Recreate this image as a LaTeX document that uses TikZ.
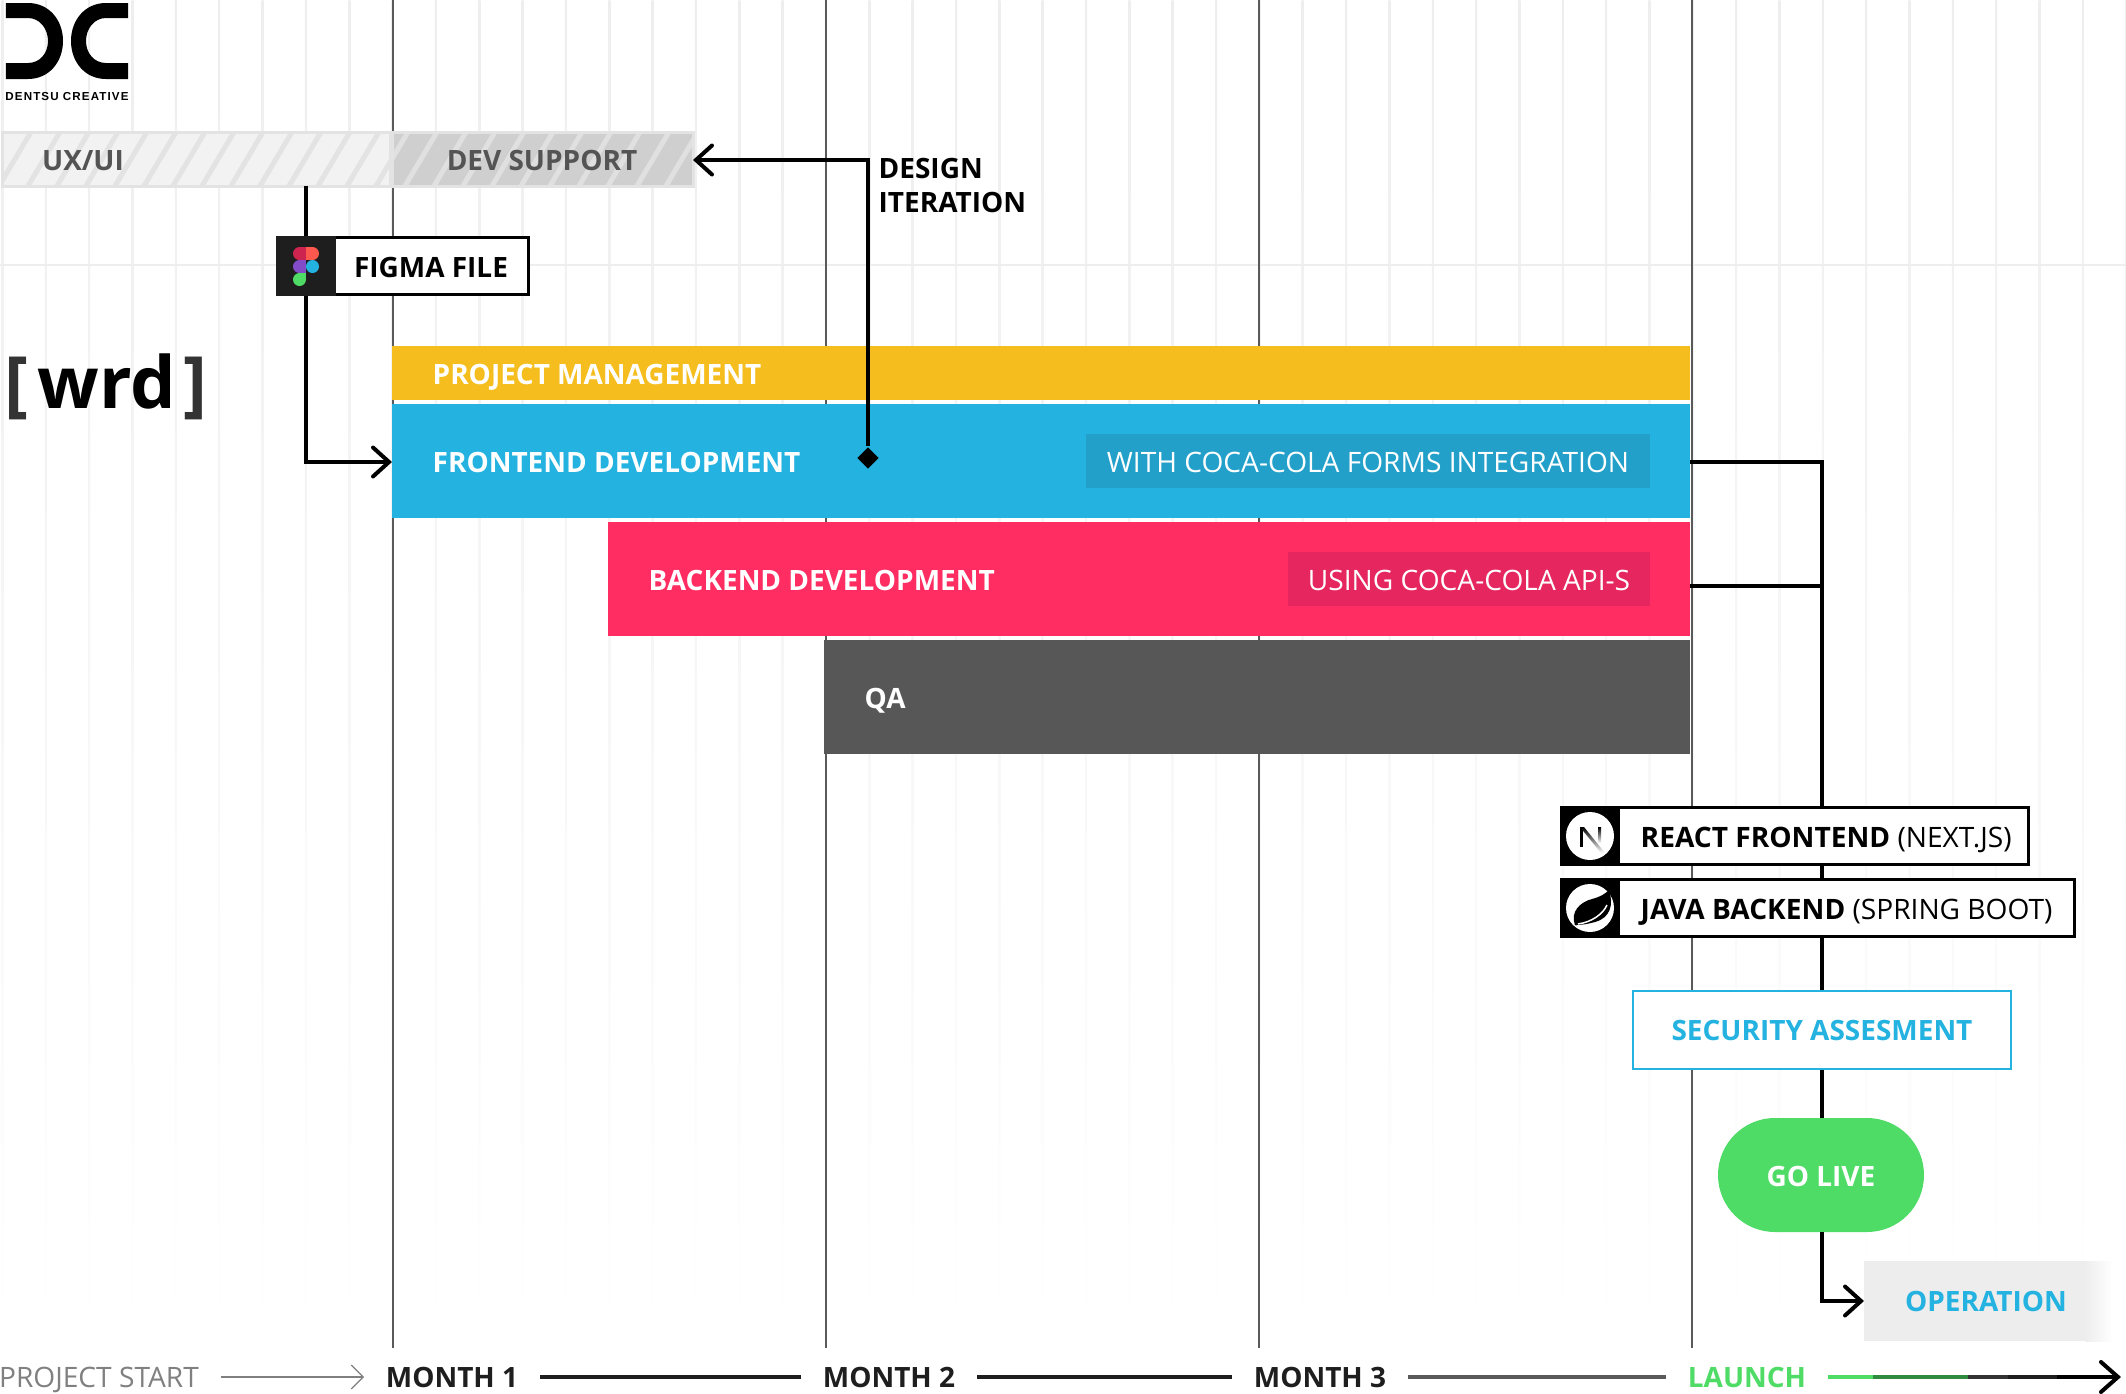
\documentclass[tikz,border=0pt]{standalone}
\usepackage{fontspec}
\setmainfont{Open Sans}
\newfontfamily\logofont[LetterSpace=9.5]{Liberation Sans}
\usetikzlibrary{arrows.meta,shapes.geometric}
\definecolor{gridgrey}{HTML}{EEEEEE}
\definecolor{monthgrey}{HTML}{5A5A5A}
\definecolor{pmyellow}{HTML}{F5BE1E}
\definecolor{feblue}{HTML}{24B2E0}
\definecolor{subblue}{HTML}{22A0C9}
\definecolor{bepink}{HTML}{FF2D62}
\definecolor{subpink}{HTML}{E5265F}
\definecolor{qagrey}{HTML}{575757}
\definecolor{livegreen}{HTML}{4EDB66}
\definecolor{axisdark}{HTML}{1E1E1E}
\definecolor{axisgreen}{HTML}{2E8B40}
\tikzset{
    barbox/.style={rectangle, anchor=north west, inner sep=0pt, outer sep=0pt},
    caplabel/.style={inner sep=0pt, text height=0.2cm, text depth=0pt, font=\fontsize{8}{9}\selectfont},
    boldlabel/.style={caplabel, font=\fontsize{7.96}{9}\selectfont\bfseries},
    flowline/.style={line width=0.04cm, black},
    flowarrow/.style={flowline, -{Straight Barb[length=1.6mm, width=2.9mm, line cap=round]}},
    techbox/.style={barbox, draw=black, line width=0.03cm, fill=white},
    iconbox/.style={barbox, fill=black, minimum width=0.6cm},
    axislabel/.style={boldlabel, inner xsep=0.21cm},
    axisline/.style={line width=0.045cm}
}
\begin{document}
\begin{tikzpicture}[y=-1cm]
        \useasboundingbox (0,0) rectangle (21.26,13.94);
        \fill [white] (0,0) rectangle (21.26,13.94);
        \pgfmathsetmacro{\gridstep}{0.4334}
        % background grid
        \foreach \k in {-9,...,40}{
                \pgfmathsetmacro{\gridx}{3.926+\k*\gridstep}
                \shade [top color=gridgrey, bottom color=white] ({\gridx-0.01}, 0) rectangle ({\gridx+0.01}, 13.4);
            }
        \fill [gridgrey] (0, 2.64) rectangle (21.26, 2.66);
        \foreach \x in {3.926, 8.26, 12.59, 16.92}{
                \fill [monthgrey] ({\x-0.01}, 0) rectangle ({\x+0.01}, 13.48);
            }
        % logos
        \fill [black] (0.06,0.03) -- (0.28,0.03) .. controls (0.49,0.03) and (0.63,0.2) .. (0.63,0.41) .. controls (0.63,0.62) and (0.49,0.79) .. (0.28,0.79) -- (0.06,0.79) -- (0.06,0.63) -- (0.28,0.63) .. controls (0.4,0.63) and (0.48,0.53) .. (0.48,0.41) .. controls (0.48,0.29) and (0.4,0.18) .. (0.28,0.18) -- (0.06,0.18) -- cycle;
        \fill [black] (1.28,0.03) -- (1.06,0.03) .. controls (0.85,0.03) and (0.71,0.2) .. (0.71,0.41) .. controls (0.71,0.62) and (0.85,0.79) .. (1.06,0.79) -- (1.28,0.79) -- (1.28,0.63) -- (1.06,0.63) .. controls (0.94,0.63) and (0.86,0.53) .. (0.86,0.41) .. controls (0.86,0.29) and (0.94,0.18) .. (1.06,0.18) -- (1.28,0.18) -- cycle;
        \node [inner sep=0pt, font=\logofont\fontsize{3.3}{4}\selectfont\bfseries] (dentsu) at (0.67, 0.97) {DENTSU CREATIVE};
        \node [inner sep=0pt, anchor=base west, font=\fontsize{20.5}{24}\selectfont\bfseries] (wrd) at (0.04, 4.08) {\textcolor{black!80}{[}\hspace{2.5pt}wrd\hspace{2.3pt}\textcolor{black!80}{]}};
        % bars
        \node [barbox, fill=black!5, minimum width=3.88cm, minimum height=0.54cm] (uxbar) at (0.02, 1.32) {};
        \node [barbox, fill=black!19, minimum width=3.01cm, minimum height=0.54cm] (devbar) at (3.92, 1.32) {};
        \begin{scope}
            \clip (uxbar.south west) rectangle (uxbar.north east);
            \foreach \x in {-0.3,-0.01,...,4.2}{
                    \draw [black!11, line width=0.05cm] (\x, 1.86) -- ({\x+0.32}, 1.32);
                }
        \end{scope}
        \begin{scope}
            \clip (devbar.south west) rectangle (devbar.north east);
            \foreach \x in {3.76,4.05,...,7.2}{
                    \draw [black!12, line width=0.05cm] (\x, 1.86) -- ({\x+0.32}, 1.32);
                }
        \end{scope}
        \draw [black!11, line width=0.03cm] (uxbar.south west) rectangle (uxbar.north east);
        \draw [black!11, line width=0.03cm] (devbar.south west) rectangle (devbar.north east);
        \node [barbox, fill=pmyellow, minimum width=12.98cm, minimum height=0.54cm] (pmbar) at (3.92, 3.46) {};
        \node [barbox, fill=feblue, minimum width=12.98cm, minimum height=1.14cm] (frontendbar) at (3.92, 4.04) {};
        \node [barbox, fill=bepink, minimum width=10.82cm, minimum height=1.14cm] (backendbar) at (6.08, 5.22) {};
        \node [barbox, fill=qagrey, minimum width=8.66cm, minimum height=1.14cm] (qabar) at (8.24, 6.40) {};
        \node [barbox, fill=subblue, minimum width=5.64cm, minimum height=0.54cm] (formsbox) at (10.86, 4.34) {};
        \node [barbox, fill=subpink, minimum width=3.62cm, minimum height=0.54cm] (apibox) at (12.88, 5.52) {};
        % connectors
        \coordinate (uxout) at (3.06, 1.86);
        \node [diamond, fill=black, inner sep=0pt, minimum size=0.22cm] (iterdot) at (8.68, 4.58) {};
        \node [barbox, fill=livegreen, rounded corners=0.57cm, minimum width=2.06cm, minimum height=1.14cm] (golive) at (17.18, 11.18) {};
        \node [barbox, fill=black!7, minimum width=2.21cm, minimum height=0.80cm] (opbox) at (18.64, 12.61) {};
        \shade [left color=black!7, right color=white] (opbox.north east) rectangle ([xshift=0.28cm]opbox.south east);
        \draw [flowarrow] (uxout) |- ([yshift=-0.01cm]frontendbar.west);
        \draw [flowarrow] (iterdot) |- ([yshift=-0.01cm]devbar.east);
        \draw [flowline] ([yshift=-0.01cm]frontendbar.east) -| ([xshift=0.01cm]golive.north);
        \draw [flowline] ([yshift=-0.07cm]backendbar.east) -- +(1.33, 0);
        \draw [flowarrow] ([xshift=0.01cm]golive.south) |- (opbox.west);
        % boxes with icons
        \node [techbox, minimum width=2.50cm, minimum height=0.57cm] (figmabox) at (2.78, 2.375) {};
        \node [iconbox, fill=axisdark, minimum height=0.60cm] (figmaicon) at (2.76, 2.36) {};
        \fill [bepink!80!black] (2.995,2.535) circle [radius=0.065];
        \fill [bepink!80!black] (2.995,2.47) rectangle (3.06,2.60);
        \fill [bepink!70!pmyellow] (3.06,2.47) rectangle (3.125,2.60);
        \fill [bepink!70!pmyellow] (3.125,2.535) circle [radius=0.065];
        \fill [violet!60!blue!70!white] (2.995,2.665) circle [radius=0.065];
        \fill [violet!60!blue!70!white] (2.995,2.60) rectangle (3.06,2.73);
        \fill [feblue] (3.125,2.665) circle [radius=0.065];
        \fill [livegreen] (2.995,2.795) circle [radius=0.065];
        \fill [livegreen] (2.995,2.73) rectangle (3.06,2.795);
        \node [techbox, minimum width=4.67cm, minimum height=0.57cm] (reactbox) at (15.615, 8.075) {};
        \node [iconbox, minimum height=0.60cm] (nexticon) at (15.60, 8.06) {};
        \fill [white] (15.90, 8.36) circle [radius=0.24];
        \fill [black] (15.80,8.27) rectangle (15.83,8.47);
        \shade [top color=black, bottom color=white] (15.80,8.27) -- (15.84,8.27) -- (16.05,8.53) -- (16.01,8.53) -- cycle;
        \shade [top color=black, bottom color=white] (15.98,8.27) rectangle (16.01,8.43);
        \node [techbox, minimum width=5.13cm, minimum height=0.57cm] (javabox) at (15.615, 8.795) {};
        \node [iconbox, minimum height=0.60cm] (springicon) at (15.60, 8.78) {};
        \fill [white] (15.90, 9.08) circle [radius=0.24];
        \fill [black] (15.75,9.25) .. controls (15.70,9.12) and (15.80,9.02) .. (15.92,8.99) .. controls (16.00,8.97) and (16.05,8.94) .. (16.09,8.90) .. controls (16.14,9.05) and (16.10,9.18) .. (15.95,9.22) .. controls (15.88,9.24) and (15.82,9.25) .. (15.75,9.25) -- cycle;
        \draw [white, line width=0.015cm] (15.78,9.24) .. controls (15.92,9.22) and (16.03,9.14) .. (16.07,9.05);
        \fill [black] (15.76,9.24) circle [radius=0.015];
        \node [barbox, draw=feblue, fill=white, line width=0.025cm, minimum width=3.78cm, minimum height=0.78cm] (securitybox) at (16.33, 9.91) {};
        % labels
        \node [boldlabel, text=black!67] (uxlabel) at (0.83, 1.60) {UX/UI};
        \node [boldlabel, text=black!67] (devlabel) at (5.42, 1.60) {DEV SUPPORT};
        \node [boldlabel] (figmalabel) at (4.31, 2.67) {FIGMA FILE};
        \node [boldlabel, anchor=west] (designlabel) at (8.78, 1.68) {DESIGN};
        \node [boldlabel, anchor=west] (iterlabel) at (8.78, 2.02) {ITERATION};
        \node [boldlabel, anchor=west, text=white] (pmlabel) at (4.32, 3.74) {PROJECT MANAGEMENT};
        \node [boldlabel, anchor=west, text=white] (frontendlabel) at (4.32, 4.62) {FRONTEND DEVELOPMENT};
        \node [boldlabel, anchor=west, text=white] (backendlabel) at (6.48, 5.80) {BACKEND DEVELOPMENT};
        \node [boldlabel, anchor=west, text=white] (qalabel) at (8.64, 6.98) {QA};
        \node [caplabel, text=white] (formslabel) at (13.68, 4.62) {WITH COCA-COLA FORMS INTEGRATION};
        \node [caplabel, text=white] (apilabel) at (14.69, 5.80) {USING COCA-COLA API-S};
        \node [caplabel, anchor=west] (reactlabel) at (16.40, 8.37) {\textbf{REACT FRONTEND} (NEXT.JS)};
        \node [caplabel, anchor=west] (javalabel) at (16.40, 9.09) {\textbf{JAVA BACKEND} (SPRING BOOT)};
        \node [boldlabel, text=feblue] (securitylabel) at (18.22, 10.30) {SECURITY ASSESMENT};
        \node [boldlabel, text=white] (golivelabel) at (18.21, 11.76) {GO LIVE};
        \node [boldlabel, text=feblue] (oplabel) at (19.86, 13.01) {OPERATION};
        % time axis
        \node [caplabel, inner xsep=0.21cm, text=black!50] (projectstart) at (0.99, 13.77) {PROJECT START};
        \node [axislabel, text=axisdark] (month1) at (4.52, 13.77) {MONTH 1};
        \node [axislabel, text=axisdark] (month2) at (8.89, 13.77) {MONTH 2};
        \node [axislabel, text=axisdark] (month3) at (13.20, 13.77) {MONTH 3};
        \node [axislabel, text=livegreen] (launch) at (17.47, 13.77) {LAUNCH};
        \coordinate (seggreen) at (18.73, 13.77);
        \coordinate (segdark) at (19.68, 13.77);
        \coordinate (segmid) at (20.08, 13.77);
        \coordinate (segblack) at (20.57, 13.77);
        \coordinate (axisend) at (21.21, 13.77);
        \draw [black!50, line width=0.012cm, -{Straight Barb[length=1.2mm, width=2.4mm]}] (projectstart) -- (month1);
        \draw [axisline, axisdark] (month1) -- (month2);
        \draw [axisline, axisdark] (month2) -- (month3);
        \draw [axisline, monthgrey] (month3) -- (launch);
        \draw [axisline, livegreen] (launch) -- (seggreen);
        \draw [axisline, axisgreen] (seggreen) -- (segdark);
        \draw [axisline, black!80] (segdark) -- (segmid);
        \draw [axisline, axisdark] (segmid) -- (segblack);
        \draw [flowline, -{Straight Barb[length=1.7mm, width=3mm, line cap=round]}] (segblack) -- (axisend);
    \end{tikzpicture}
\end{document}
